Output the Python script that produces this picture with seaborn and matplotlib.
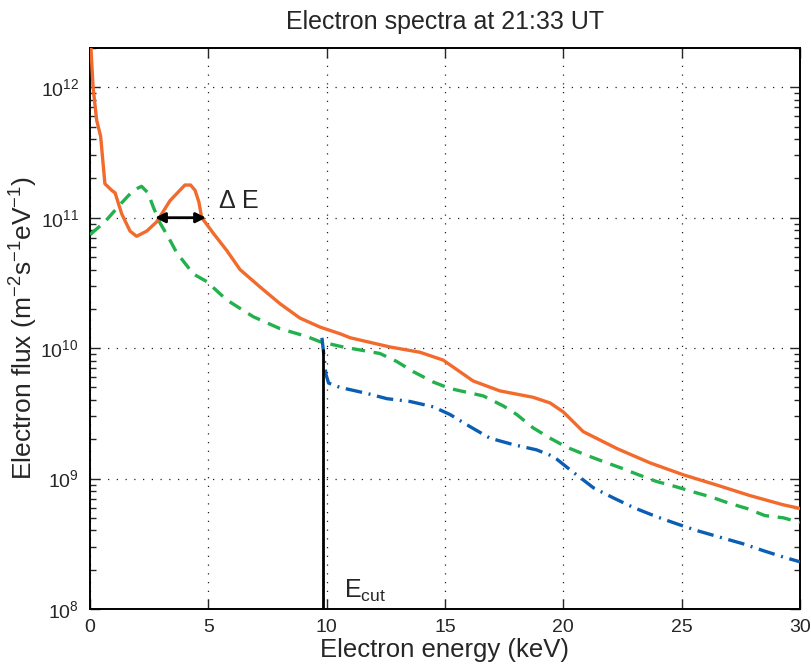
import numpy as np
import pandas as pd
import matplotlib
matplotlib.use("Agg")
import matplotlib.pyplot as plt
import seaborn as sns

# ---------------- data ----------------
orange_x = [0.0, 0.04, 0.13, 0.28, 0.45, 0.63, 0.92, 1.06, 1.34, 1.69, 1.97, 2.40, 2.82,
            3.38, 4.01, 4.25, 4.44, 4.60, 4.72, 4.93, 5.21, 5.78, 6.34, 7.18, 8.03, 8.87,
            9.72, 10.56, 11.0, 12.68, 13.94, 14.92, 16.19, 17.32, 18.72, 19.44, 20.0,
            20.84, 22.26, 23.66, 25.06, 26.5, 27.89, 29.28, 30.0]
orange_y = [2.8e12, 2.0e12, 1.0e12, 5.6e11, 4.2e11, 1.82e11, 1.62e11, 1.55e11, 1.07e11,
            7.9e10, 7.2e10, 7.9e10, 9.3e10, 1.35e11, 1.78e11, 1.78e11, 1.62e11, 1.32e11,
            1.0e11, 8.9e10, 7.6e10, 5.6e10, 4.0e10, 2.95e10, 2.19e10, 1.70e10, 1.45e10,
            1.29e10, 1.20e10, 1.02e10, 9.3e9, 8.1e9, 5.6e9, 4.7e9, 4.2e9, 3.8e9, 3.24e9,
            2.29e9, 1.70e9, 1.32e9, 1.07e9, 8.9e8, 7.4e8, 6.3e8, 5.9e8]

green_x = [0.0, 0.14, 0.63, 1.27, 1.83, 2.18, 2.45, 2.68, 2.96, 3.31, 3.66, 4.37, 4.93,
           5.78, 6.9, 8.03, 9.15, 9.72, 10.7, 12.25, 12.96, 13.66, 14.5, 15.21, 16.62,
           17.47, 18.03, 18.72, 19.44, 20.14, 20.98, 21.69, 22.47, 23.17, 23.94, 24.72,
           25.49, 26.27, 26.97, 27.75, 28.52, 29.3, 30.0]
green_y = [7.4e10, 7.8e10, 9.3e10, 1.26e11, 1.62e11, 1.74e11, 1.55e11, 1.20e11, 9.1e10,
           7.1e10, 5.4e10, 3.7e10, 3.24e10, 2.34e10, 1.74e10, 1.41e10, 1.23e10, 1.12e10,
           1.02e10, 9.1e9, 7.9e9, 6.6e9, 5.5e9, 4.9e9, 4.3e9, 3.6e9, 3.1e9, 2.45e9,
           2.04e9, 1.74e9, 1.51e9, 1.35e9, 1.20e9, 1.07e9, 9.5e8, 8.7e8, 7.9e8, 7.2e8,
           6.5e8, 5.9e8, 5.2e8, 5.0e8, 4.6e8]

blue_x = [9.80, 9.88, 9.97, 10.08, 10.56, 11.69, 12.54, 13.52, 14.5, 15.21, 16.06, 16.9,
          17.89, 18.87, 19.44, 19.72, 20.28, 21.27, 22.12, 22.96, 23.94, 24.79, 25.63,
          26.62, 27.6, 28.45, 29.3, 30.0]
blue_y = [1.2e10, 8.9e9, 6.3e9, 5.4e9, 5.0e9, 4.5e9, 4.1e9, 3.9e9, 3.55e9, 3.1e9, 2.5e9,
          2.04e9, 1.82e9, 1.66e9, 1.51e9, 1.41e9, 1.17e9, 8.5e8, 7.1e8, 6.0e8, 5.1e8,
          4.5e8, 4.0e8, 3.55e8, 3.16e8, 2.8e8, 2.5e8, 2.3e8]

ecut_x = [9.83, 9.83]
ecut_y = [1e8, 9.6e9]

de_start, de_end, de_level = 2.75, 4.9, 1.0e11

x_ticks = [0, 5, 10, 15, 20, 25, 30]
y_ticks = [1e8, 1e9, 1e10, 1e11, 1e12]

title = "Electron spectra at 21:33 UT"
xlabel = "Electron energy (keV)"
ylabel = "Electron flux (m$^{-2}$s$^{-1}$eV$^{-1}$)"

# ---------------- style ----------------
sns.set_style("ticks")
plt.rcParams["font.family"] = ["Liberation Sans", "DejaVu Sans"]
plt.rcParams["mathtext.fontset"] = "custom"
plt.rcParams["mathtext.rm"] = "Liberation Sans"
plt.rcParams["mathtext.it"] = "Liberation Sans"
plt.rcParams["mathtext.default"] = "regular"

fig = plt.figure(figsize=(8.12, 6.64), dpi=100)
ax = fig.add_axes([90 / 812, 1 - 609 / 664, 710 / 812, 561 / 664])

df_o = pd.DataFrame({"x": orange_x, "y": orange_y})
df_g = pd.DataFrame({"x": green_x, "y": green_y})
df_b = pd.DataFrame({"x": blue_x, "y": blue_y})
df_e = pd.DataFrame({"x": ecut_x, "y": ecut_y})

sns.lineplot(data=df_g, x="x", y="y", ax=ax, color="#22B14C", lw=2.4,
             linestyle=(0, (4.0, 2.6)), sort=False, estimator=None, zorder=3)
sns.lineplot(data=df_b, x="x", y="y", ax=ax, color="#0B5EB4", lw=2.4,
             linestyle=(0, (5.0, 2.0, 0.6, 2.0)), sort=False, estimator=None, zorder=3)
sns.lineplot(data=df_o, x="x", y="y", ax=ax, color="#F26A2C", lw=2.4,
             sort=False, estimator=None, zorder=4)
sns.lineplot(data=df_e, x="x", y="y", ax=ax, color="black", lw=2.0,
             sort=False, estimator=None, zorder=5)

ax.annotate("", xy=(de_end, de_level), xytext=(de_start, de_level),
            arrowprops=dict(arrowstyle="<|-|>", color="black", lw=2.0,
                            mutation_scale=15, shrinkA=0, shrinkB=0), zorder=6)
ax.text(5.4, 1.35e11, "$\\Delta$ E", fontsize=18, va="center", ha="left")
ax.text(10.75, 1.21e8, "E$_{\\rm cut}$", fontsize=18, va="baseline", ha="left")

ax.set_yscale("log")
ax.set_xlim(0, 30)
ax.set_ylim(1e8, 2e12)
ax.set_xticks(x_ticks)
ax.set_yticks(y_ticks)

ax.grid(True, which="major", linestyle=(0, (1, 6)), color="#222222", lw=0.9)
ax.tick_params(which="both", direction="in", top=True, right=True, width=1.0)
ax.tick_params(which="major", length=7, pad=7)
ax.tick_params(axis="x", which="major", labelsize=14)
ax.tick_params(axis="y", which="major", labelsize=14, pad=8)
ax.tick_params(which="minor", length=4)
for s in ax.spines.values():
    s.set_visible(True)
    s.set_linewidth(1.4)
    s.set_color("black")

ax.set_title(title, fontsize=18, pad=14)
ax.set_xlabel(xlabel, fontsize=18.5, labelpad=2)
ax.set_ylabel(ylabel, fontsize=19)
ax.yaxis.set_label_coords(-0.071, 0.5)

fig.savefig("out.png", dpi=100)
